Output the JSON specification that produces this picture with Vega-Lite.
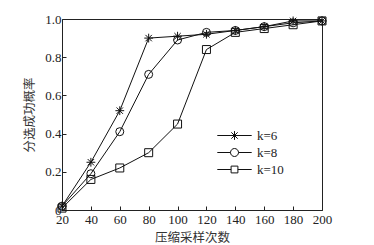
{
  "$schema": "https://vega.github.io/schema/vega-lite/v6.json",
  "width": 260,
  "height": 191,
  "autosize": {"type": "none"},
  "padding": {"left": 62, "top": 19, "right": 52, "bottom": 35},
  "background": "white",
  "config": {
    "view": {"stroke": "#222", "strokeWidth": 1},
    "axis": {
      "grid": false,
      "domainColor": "#222",
      "tickColor": "#222",
      "labelFont": "Liberation Serif",
      "labelFontSize": 13,
      "labelColor": "#222",
      "titleFont": "Noto Sans CJK SC",
      "titleFontSize": 12.5,
      "titleFontWeight": "normal",
      "titleColor": "#333"
    }
  },
  "data": {
    "values": [
      {"n": 20, "p": 0.02, "k": "k=6"},
      {"n": 40, "p": 0.25, "k": "k=6"},
      {"n": 60, "p": 0.52, "k": "k=6"},
      {"n": 80, "p": 0.90, "k": "k=6"},
      {"n": 100, "p": 0.91, "k": "k=6"},
      {"n": 120, "p": 0.92, "k": "k=6"},
      {"n": 140, "p": 0.94, "k": "k=6"},
      {"n": 160, "p": 0.96, "k": "k=6"},
      {"n": 180, "p": 0.99, "k": "k=6"},
      {"n": 200, "p": 0.99, "k": "k=6"},
      {"n": 20, "p": 0.02, "k": "k=8"},
      {"n": 40, "p": 0.19, "k": "k=8"},
      {"n": 60, "p": 0.41, "k": "k=8"},
      {"n": 80, "p": 0.71, "k": "k=8"},
      {"n": 100, "p": 0.89, "k": "k=8"},
      {"n": 120, "p": 0.93, "k": "k=8"},
      {"n": 140, "p": 0.94, "k": "k=8"},
      {"n": 160, "p": 0.96, "k": "k=8"},
      {"n": 180, "p": 0.98, "k": "k=8"},
      {"n": 200, "p": 0.99, "k": "k=8"},
      {"n": 20, "p": 0.01, "k": "k=10"},
      {"n": 40, "p": 0.16, "k": "k=10"},
      {"n": 60, "p": 0.22, "k": "k=10"},
      {"n": 80, "p": 0.30, "k": "k=10"},
      {"n": 100, "p": 0.45, "k": "k=10"},
      {"n": 120, "p": 0.84, "k": "k=10"},
      {"n": 140, "p": 0.93, "k": "k=10"},
      {"n": 160, "p": 0.95, "k": "k=10"},
      {"n": 180, "p": 0.97, "k": "k=10"},
      {"n": 200, "p": 0.99, "k": "k=10"}
    ]
  },
  "encoding": {
    "x": {
      "field": "n",
      "type": "quantitative",
      "scale": {"domain": [20, 200], "nice": false, "zero": false},
      "axis": {
        "title": "压缩采样次数",
        "values": [20, 40, 60, 80, 100, 120, 140, 160, 180, 200],
        "tickSize": -4,
        "labelPadding": 7,
        "titlePadding": 5,
        "labelFlush": false
      }
    },
    "y": {
      "field": "p",
      "type": "quantitative",
      "scale": {"domain": [0, 1], "nice": false},
      "axis": {
        "title": "分选成功概率",
        "values": [0, 0.2, 0.4, 0.6, 0.8, 1.0],
        "labelExpr": "datum.value == 0 ? '0' : format(datum.value, '.1f')",
        "tickSize": -4,
        "labelPadding": 5,
        "titlePadding": 8,
        "labelFlush": false
      }
    }
  },
  "resolve": {"scale": {"shape": "independent"}, "legend": {"shape": "independent"}},
  "layer": [
    {
      "mark": {"type": "line", "color": "#111", "strokeWidth": 1},
      "encoding": {"detail": {"field": "k", "type": "nominal"}}
    },
    {
      "mark": {"type": "point", "filled": false, "color": "#111", "strokeWidth": 1, "size": 64, "opacity": 1},
      "encoding": {
        "shape": {
          "field": "k",
          "type": "nominal",
          "scale": {
            "domain": ["k=6", "k=8", "k=10"],
            "range": [
              "M-1.1,0L1.1,0M0,-1.1L0,1.1M-0.8,-0.8L0.8,0.8M-0.8,0.8L0.8,-0.8",
              "circle",
              "square"
            ]
          },
          "legend": null
        }
      }
    },
    {
      "transform": [{"filter": "datum.n < 0"}],
      "mark": {"type": "point", "filled": false, "color": "#111", "strokeWidth": 1, "size": 64, "opacity": 1},
      "encoding": {
        "shape": {
          "field": "k",
          "type": "nominal",
          "scale": {
            "domain": ["k=6", "k=8", "k=10"],
            "range": [
              "M-4.3,0L4.3,0M0,-1.1L0,1.1M-0.8,-0.8L0.8,0.8M-0.8,0.8L0.8,-0.8",
              "M-4.3,0L-1,0M1,0L4.3,0M1,0A1,1,0,1,1,-1,0A1,1,0,1,1,1,0Z",
              "M-4.3,0L-0.85,0M0.85,0L4.3,0M-0.85,-0.85L0.85,-0.85L0.85,0.85L-0.85,0.85Z"
            ]
          },
          "legend": {
            "title": null,
            "orient": "none",
            "legendX": 166,
            "legendY": 110,
            "labelFont": "Liberation Serif",
            "labelFontSize": 13,
            "labelColor": "#222",
            "labelOffset": 16,
            "rowPadding": 3,
            "symbolStrokeColor": "#111",
            "symbolStrokeWidth": 1,
            "symbolSize": 64
          }
        }
      }
    }
  ]
}
